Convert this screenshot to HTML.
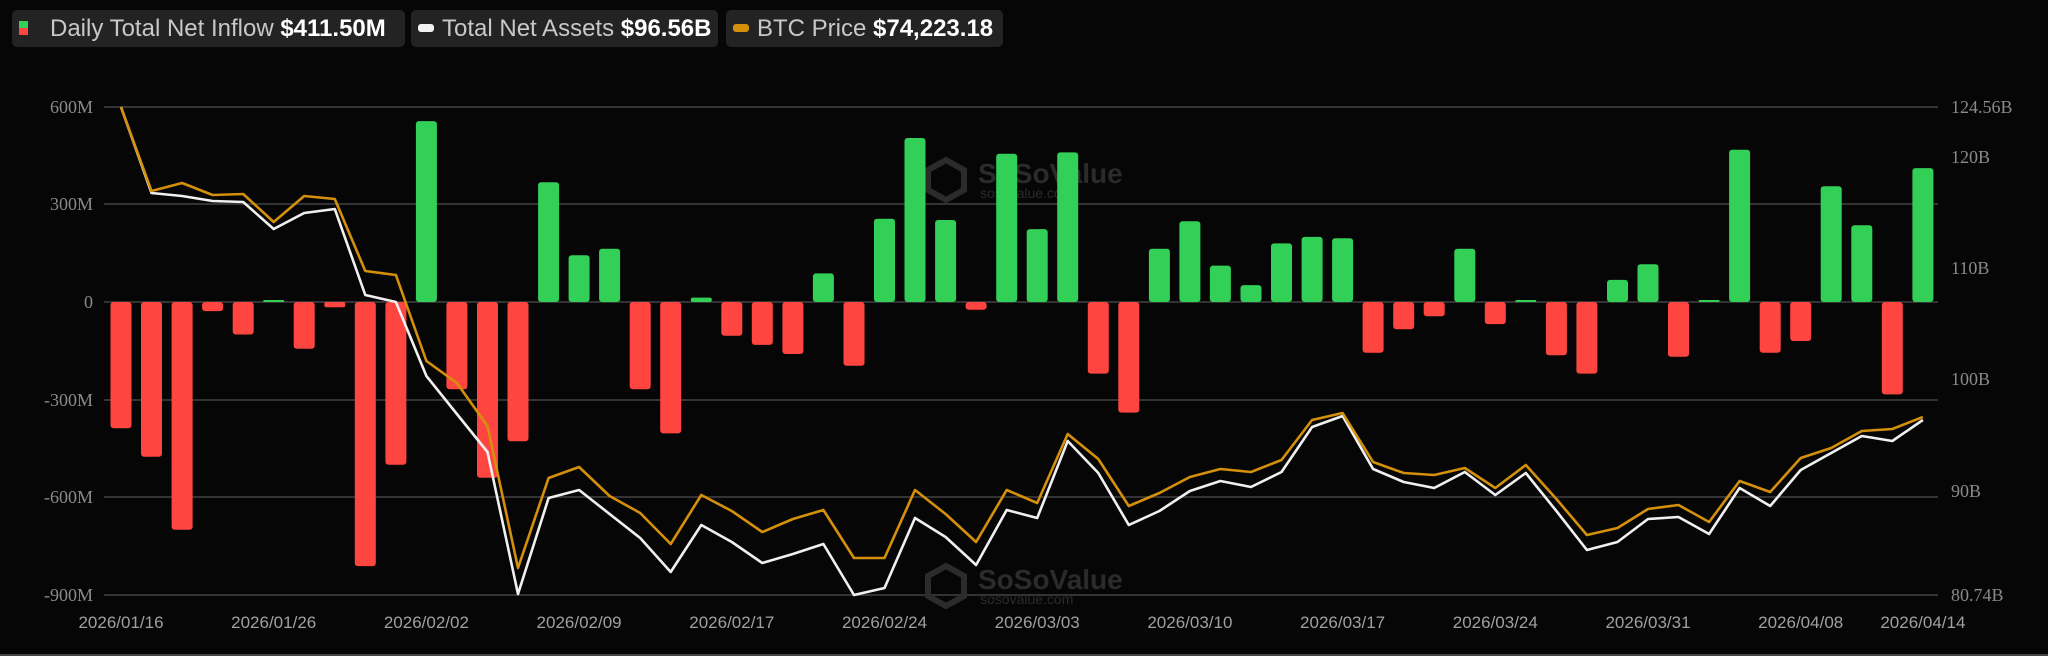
<!DOCTYPE html>
<html><head><meta charset="utf-8"><style>
html,body{margin:0;padding:0;background:#060606;}
body{width:2048px;height:656px;overflow:hidden;position:relative;font-family:"Liberation Sans",sans-serif;}
.lg{position:absolute;top:10px;height:37px;background:#232323;border-radius:5px;color:#c8c8c8;font-size:24px;line-height:37px;white-space:nowrap;}
.lg b{color:#fff;font-weight:bold;}
</style></head><body>
<div class="lg" style="left:12px;width:393px;">
 <span style="position:absolute;left:7px;top:11px;width:9px;height:7px;background:#33d058"></span>
 <span style="position:absolute;left:7px;top:18px;width:9px;height:7px;background:#ff4540"></span>
 <span style="position:absolute;left:38px;">Daily Total Net Inflow <b>$411.50M</b></span></div>
<div class="lg" style="left:411px;width:307px;">
 <span style="position:absolute;left:7px;top:14px;width:16px;height:8px;border-radius:3px;background:#f2f2f2"></span>
 <span style="position:absolute;left:31px;">Total Net Assets <b>$96.56B</b></span></div>
<div class="lg" style="left:726px;width:277px;">
 <span style="position:absolute;left:7px;top:14px;width:16px;height:8px;border-radius:3px;background:#d4900a"></span>
 <span style="position:absolute;left:31px;">BTC Price <b>$74,223.18</b></span></div>

<svg width="2048" height="656" style="position:absolute;left:0;top:0" xmlns="http://www.w3.org/2000/svg">
<g stroke="#333" stroke-width="2">
<line x1="104" y1="107" x2="1938" y2="107"/><line x1="104" y1="204" x2="1938" y2="204"/>
<line x1="104" y1="302" x2="1938" y2="302"/><line x1="104" y1="400" x2="1938" y2="400"/>
<line x1="104" y1="497" x2="1938" y2="497"/><line x1="104" y1="595" x2="1938" y2="595"/>
</g>
<line x1="0" y1="655" x2="2048" y2="655" stroke="#444" stroke-width="2"/>
<g font-family="Liberation Serif,serif" font-size="18" fill="#8a8a8a" text-anchor="end">
<text x="93" y="113">600M</text><text x="93" y="210">300M</text><text x="93" y="308">0</text>
<text x="93" y="406">-300M</text><text x="93" y="503">-600M</text><text x="93" y="601">-900M</text></g>
<g font-family="Liberation Serif,serif" font-size="18" fill="#8a8a8a">
<text x="1951" y="113">124.56B</text><text x="1951" y="163">120B</text><text x="1951" y="274">110B</text>
<text x="1951" y="385">100B</text><text x="1951" y="497">90B</text><text x="1951" y="601">80.74B</text></g>
<g font-family="Liberation Sans,sans-serif" font-size="17" fill="#a0a0a0" text-anchor="middle">
<text x="121" y="628">2026/01/16</text><text x="273.7" y="628">2026/01/26</text><text x="426.4" y="628">2026/02/02</text>
<text x="579.1" y="628">2026/02/09</text><text x="731.8" y="628">2026/02/17</text><text x="884.5" y="628">2026/02/24</text>
<text x="1037.2" y="628">2026/03/03</text><text x="1189.9" y="628">2026/03/10</text><text x="1342.6" y="628">2026/03/17</text>
<text x="1495.3" y="628">2026/03/24</text><text x="1648" y="628">2026/03/31</text><text x="1800.7" y="628">2026/04/08</text>
<text x="1922.9" y="628">2026/04/14</text></g>

<g fill="#2b2b2b" font-family="Liberation Sans,sans-serif">
<polygon points="946,160 964,170 964,190 946,200 928,190 928,170" fill="none" stroke="#2b2b2b" stroke-width="6"/>
<text x="978" y="183" font-size="28" font-weight="bold">SoSoValue</text>
<text x="980" y="198" font-size="14">sosovalue.com</text>
<polygon points="946,566 964,576 964,596 946,606 928,596 928,576" fill="none" stroke="#2b2b2b" stroke-width="6"/>
<text x="978" y="589" font-size="28" font-weight="bold">SoSoValue</text>
<text x="980" y="604" font-size="14">sosovalue.com</text>
</g>

<g fill="#ff4540">
<rect x="110.5" y="302" width="21" height="126.2" rx="3"/>
<rect x="141" y="302" width="21" height="154.8" rx="3"/>
<rect x="171.6" y="302" width="21" height="227.7" rx="3"/>
<rect x="202.1" y="302" width="21" height="9.1" rx="3"/>
<rect x="232.7" y="302" width="21" height="32.5" rx="3"/>
<rect x="293.7" y="302" width="21" height="46.8" rx="3"/>
<rect x="324.3" y="302" width="21" height="5.2" rx="2"/>
<rect x="354.8" y="302" width="21" height="264.1" rx="3"/>
<rect x="385.4" y="302" width="21" height="162.7" rx="3"/>
<rect x="446.4" y="302" width="21" height="87.2" rx="3"/>
<rect x="477" y="302" width="21" height="175.7" rx="3"/>
<rect x="507.5" y="302" width="21" height="139.2" rx="3"/>
<rect x="629.7" y="302" width="21" height="87.2" rx="3"/>
<rect x="660.2" y="302" width="21" height="131.4" rx="3"/>
<rect x="721.3" y="302" width="21" height="33.8" rx="3"/>
<rect x="751.8" y="302" width="21" height="42.9" rx="3"/>
<rect x="782.4" y="302" width="21" height="52" rx="3"/>
<rect x="843.5" y="302" width="21" height="63.8" rx="3"/>
<rect x="965.6" y="302" width="21" height="7.8" rx="3"/>
<rect x="1087.8" y="302" width="21" height="71.6" rx="3"/>
<rect x="1118.3" y="302" width="21" height="110.6" rx="3"/>
<rect x="1362.6" y="302" width="21" height="50.7" rx="3"/>
<rect x="1393.2" y="302" width="21" height="27.3" rx="3"/>
<rect x="1423.7" y="302" width="21" height="14.3" rx="3"/>
<rect x="1484.8" y="302" width="21" height="22.1" rx="3"/>
<rect x="1545.9" y="302" width="21" height="53.3" rx="3"/>
<rect x="1576.4" y="302" width="21" height="71.6" rx="3"/>
<rect x="1668" y="302" width="21" height="54.7" rx="3"/>
<rect x="1759.7" y="302" width="21" height="50.7" rx="3"/>
<rect x="1790.2" y="302" width="21" height="39" rx="3"/>
<rect x="1881.8" y="302" width="21" height="92.4" rx="3"/>
</g>
<g fill="#33d058">
<rect x="263.2" y="300" width="21" height="2" rx="1"/>
<rect x="415.9" y="121.1" width="21" height="180.9" rx="3"/>
<rect x="538.1" y="182.3" width="21" height="119.7" rx="3"/>
<rect x="568.6" y="255.2" width="21" height="46.8" rx="3"/>
<rect x="599.1" y="248.7" width="21" height="53.3" rx="3"/>
<rect x="690.8" y="297.6" width="21" height="4.4" rx="2"/>
<rect x="812.9" y="273.4" width="21" height="28.6" rx="3"/>
<rect x="874" y="218.7" width="21" height="83.3" rx="3"/>
<rect x="904.5" y="138" width="21" height="164" rx="3"/>
<rect x="935.1" y="220" width="21" height="82" rx="3"/>
<rect x="996.2" y="153.7" width="21" height="148.3" rx="3"/>
<rect x="1026.7" y="229.1" width="21" height="72.9" rx="3"/>
<rect x="1057.2" y="152.4" width="21" height="149.6" rx="3"/>
<rect x="1148.9" y="248.7" width="21" height="53.3" rx="3"/>
<rect x="1179.4" y="221.3" width="21" height="80.7" rx="3"/>
<rect x="1209.9" y="265.6" width="21" height="36.4" rx="3"/>
<rect x="1240.5" y="285.1" width="21" height="16.9" rx="3"/>
<rect x="1271" y="243.4" width="21" height="58.6" rx="3"/>
<rect x="1301.6" y="236.9" width="21" height="65.1" rx="3"/>
<rect x="1332.1" y="238.2" width="21" height="63.8" rx="3"/>
<rect x="1454.3" y="248.7" width="21" height="53.3" rx="3"/>
<rect x="1515.3" y="300" width="21" height="2" rx="1"/>
<rect x="1607" y="279.9" width="21" height="22.1" rx="3"/>
<rect x="1637.5" y="264.3" width="21" height="37.7" rx="3"/>
<rect x="1698.6" y="300" width="21" height="2" rx="1"/>
<rect x="1729.1" y="149.8" width="21" height="152.2" rx="3"/>
<rect x="1820.7" y="186.2" width="21" height="115.8" rx="3"/>
<rect x="1851.3" y="225.2" width="21" height="76.8" rx="3"/>
<rect x="1912.4" y="168.1" width="21" height="133.9" rx="3"/>
</g>

<polyline fill="none" stroke="#f0f0f0" stroke-width="2.6" stroke-linejoin="round" points="121,107 151.5,193 182.1,196 212.6,201 243.2,202 273.7,229 304.2,213 334.8,209 365.3,295 395.9,302 426.4,376 456.9,414 487.5,452 518,594 548.6,498 579.1,490 609.6,514 640.2,538 670.7,572 701.3,525 731.8,542 762.3,563 792.9,554 823.4,544 854,595 884.5,588 915,518 945.6,537 976.1,565 1006.7,510 1037.2,518 1067.7,441 1098.3,473 1128.8,525 1159.4,511 1189.9,491 1220.4,481 1251,487 1281.5,472 1312.1,427 1342.6,416 1373.1,469 1403.7,482 1434.2,488 1464.8,472 1495.3,495 1525.8,473 1556.4,511 1586.9,550 1617.5,542 1648,519 1678.5,517 1709.1,534 1739.6,488 1770.2,506 1800.7,470 1831.2,453 1861.8,436 1892.3,441 1922.9,420"/>
<polyline fill="none" stroke="#d4900a" stroke-width="2.6" stroke-linejoin="round" points="121,107 151.5,191 182.1,183 212.6,195 243.2,194 273.7,222 304.2,196 334.8,199 365.3,271 395.9,275 426.4,361 456.9,383 487.5,426 518,568 548.6,478 579.1,467 609.6,496 640.2,513 670.7,544 701.3,495 731.8,511 762.3,532 792.9,519 823.4,510 854,558 884.5,558 915,490 945.6,514 976.1,542 1006.7,490 1037.2,503 1067.7,434 1098.3,459 1128.8,506 1159.4,493 1189.9,477 1220.4,469 1251,472 1281.5,460 1312.1,420 1342.6,413 1373.1,462 1403.7,473 1434.2,475 1464.8,468 1495.3,488 1525.8,465 1556.4,499 1586.9,535 1617.5,528 1648,509 1678.5,505 1709.1,522 1739.6,481 1770.2,492 1800.7,458 1831.2,448 1861.8,431 1892.3,429 1922.9,417"/>
</svg>
</body></html>
